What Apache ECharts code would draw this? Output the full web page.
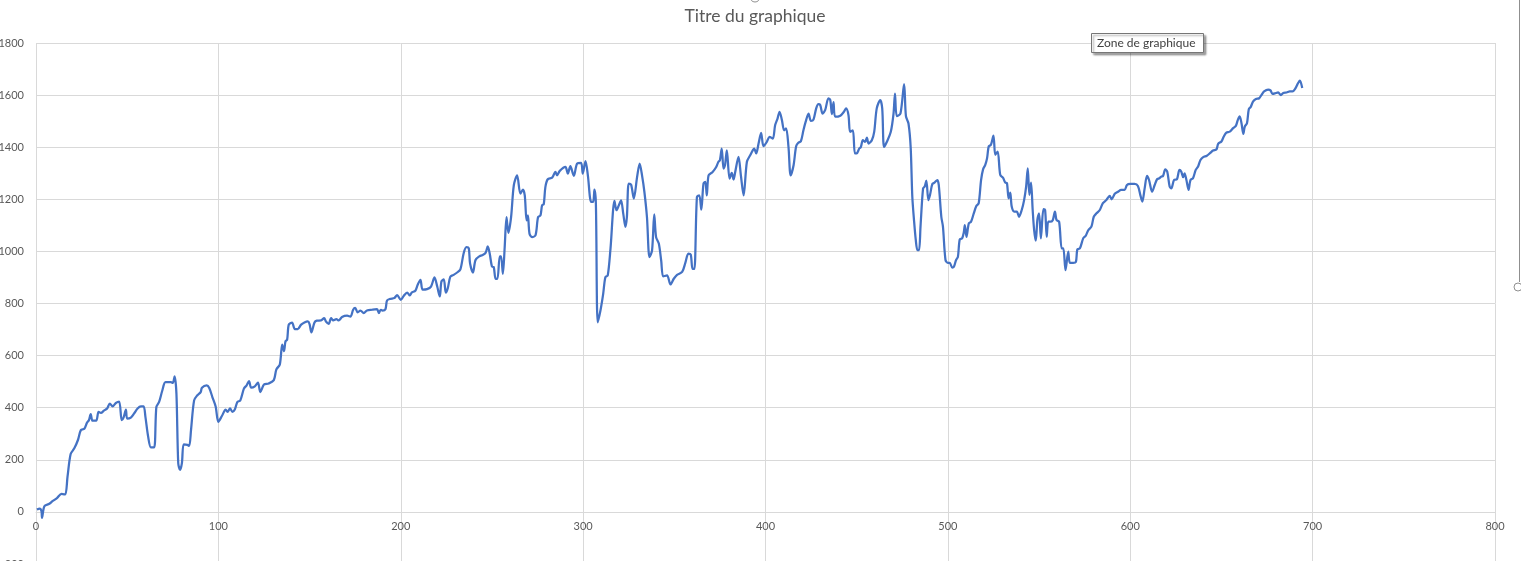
<!DOCTYPE html>
<html>
<head>
<meta charset="utf-8">
<title>Titre du graphique</title>
<script src="https://cdn.jsdelivr.net/npm/echarts@6/dist/echarts.min.js"></script>
<style>
    html, body { margin: 0; padding: 0; background: #fff; overflow: hidden; }
    #chart { width: 1521px; height: 600px; }
</style>
</head>
<body>
<div id="chart"></div>
<script>
// valeurs (x, y)
var seriesPoints = [
    [0.5, 9], [2, 13], [3, 3], [3.3, -23], [4.6, 22], [7.3, 31], [9, 41], [11.5, 53], [14, 69], [16, 67],
    [17.3, 136], [19, 222], [21, 244], [23, 276], [24.6, 314], [26.5, 319], [28, 343], [29, 352], [30, 375], [31, 350],
    [33, 350], [34.3, 384], [35.6, 380], [37.4, 390], [39, 397], [40.5, 416], [42, 405], [43.8, 418], [45.6, 423], [47, 352],
    [48, 362], [49.3, 393], [50, 358], [52, 362], [53.8, 378], [55.7, 397], [57.5, 405], [59, 405], [60, 365], [61.5, 289],
    [63, 248], [64.8, 248], [66, 403], [67.5, 422], [69.3, 467], [71, 498], [74, 498], [75, 495], [76, 520], [77, 454],
    [78, 187], [79, 161], [80, 187], [81, 259], [83, 257], [84, 253], [85, 314], [86.7, 428], [88.5, 448], [90.3, 460],
    [91, 477], [93.6, 486], [95, 476], [96.7, 441], [98.5, 405], [100, 346], [102, 369], [104, 393], [105, 384], [106.4, 397],
    [107.7, 384], [109, 393], [110.4, 422], [112, 428], [114, 473], [115.5, 486], [116.8, 502], [118, 477], [120, 482], [121.7, 496],
    [123, 460], [125, 489], [127.6, 493], [130.4, 506], [131.8, 547], [133.7, 566], [135, 642], [136, 617], [136.8, 655], [137.7, 661],
    [138.6, 719], [140.4, 727], [141.9, 702], [143.5, 702], [145.4, 719], [147.2, 727], [149, 731], [150, 721], [151, 689], [152.7, 727],
    [154, 734], [156.3, 735], [158, 744], [159, 731], [160.5, 722], [161.8, 744], [163, 735], [164.7, 740], [166, 735], [167.8, 748],
    [170.6, 753], [172.4, 750], [173.9, 776], [175, 783], [176.4, 766], [177.9, 773], [179.7, 763], [181.5, 773], [184.3, 776], [187, 778],
    [188, 763], [189, 776], [190, 773], [191.6, 778], [192.5, 812], [194.3, 818], [196.5, 821], [198, 832], [200, 814], [201.6, 829],
    [203.5, 842], [205, 831], [206, 842], [208, 849], [209.3, 872], [210.8, 891], [212, 853], [214.4, 855], [216.6, 865], [218.5, 900],
    [220, 865], [221.4, 827], [222.3, 884], [223.6, 893], [224.7, 842], [225.8, 859], [227.2, 903], [229, 910], [230.9, 919], [232.7, 931],
    [234.5, 993], [236, 1016], [237.3, 1012], [238, 954], [239.6, 919], [241, 967], [243.3, 982], [244.6, 985], [246.5, 994], [247.7, 1019],
    [248.8, 991], [250, 942], [251, 940], [252, 895], [253, 895], [254.3, 981], [255, 981], [256, 914], [257, 1017], [258, 1132],
    [259, 1071], [260.5, 1132], [262, 1254], [263.8, 1292], [265.6, 1222], [267, 1237], [268, 1215], [269, 1119], [269.7, 1138], [270.6, 1068],
    [272, 1055], [273.9, 1062], [275.3, 1132], [276.6, 1138], [277.5, 1177], [278.4, 1181], [279.3, 1247], [280.6, 1277], [283, 1283], [284.8, 1305],
    [285.7, 1292], [287.2, 1309], [290.3, 1324], [291.6, 1299], [293, 1327], [294.9, 1290], [296.7, 1337], [298.9, 1340], [299.8, 1299], [301.3, 1347],
    [302.6, 1292], [304.4, 1190], [305.5, 1190], [306.2, 1237], [307, 1183], [308, 728], [309.5, 773], [311, 837], [312.2, 901], [313.5, 908],
    [315, 1010], [317.2, 1194], [318.3, 1158], [319.6, 1177], [320.8, 1196], [322, 1145], [323.2, 1094], [324, 1132], [325, 1260], [326.3, 1256],
    [327.8, 1203], [329.6, 1286], [331, 1337], [332.3, 1292], [333.6, 1228], [335, 1132], [336.4, 978], [337.8, 1004], [339, 1142], [340, 1055],
    [341.5, 1030], [342.8, 965], [343.9, 904], [346, 908], [347.9, 873], [349.7, 895], [351.5, 910], [354.3, 921], [356, 955], [357.7, 991],
    [359, 988], [360, 933], [361, 933], [362.4, 1209], [363.7, 1215], [364.8, 1160], [366, 1260], [367, 1267], [367.8, 1215], [368.8, 1292],
    [371, 1305], [372.8, 1322], [374.2, 1344], [375, 1350], [376, 1395], [377, 1318], [377.8, 1331], [378.8, 1388], [380.3, 1279], [381.5, 1301],
    [382.5, 1276], [383.4, 1305], [385.2, 1363], [386.5, 1292], [388, 1215], [389.8, 1344], [391.6, 1369], [393, 1388], [393.8, 1395], [394.9, 1376],
    [396.2, 1414], [397.6, 1455], [398.9, 1404], [400.7, 1420], [402.2, 1440], [404, 1433], [405.3, 1485], [406.6, 1510], [407.7, 1536], [409, 1504],
    [410.2, 1465], [411.3, 1472], [412.6, 1401], [413.8, 1292], [415.4, 1331], [416.8, 1404], [418, 1417], [419.4, 1423], [420.8, 1465], [422, 1497],
    [423.6, 1529], [424.9, 1501], [426.3, 1506], [427.8, 1549], [429, 1565], [430, 1562], [431.3, 1529], [432.7, 1542], [434.5, 1587], [435.5, 1581],
    [436.4, 1527], [437.3, 1573], [438.2, 1517], [441, 1521], [443, 1536], [444.2, 1549], [445.5, 1523], [446.4, 1459], [447.9, 1465], [449, 1376],
    [450, 1376], [451.4, 1395], [452.3, 1401], [453.4, 1427], [454.6, 1420], [455.6, 1437], [456.5, 1414], [458.3, 1427], [459.6, 1459], [461, 1549],
    [462.9, 1581], [464, 1549], [465, 1401], [466.5, 1420], [468.7, 1459], [470.2, 1529], [471, 1606], [472, 1519], [474, 1529], [476, 1642],
    [477, 1519], [478.4, 1491], [479.6, 1400], [480.5, 1210], [481.5, 1114], [482.4, 1044], [483.3, 1005], [484.2, 1005], [485, 1095], [486.4, 1242],
    [487.3, 1249], [488.2, 1272], [489.3, 1197], [490.2, 1217], [491.5, 1259], [492.7, 1264], [494.2, 1274], [495, 1255], [496.4, 1133], [497.3, 1095],
    [498.7, 967], [500, 956], [501, 956], [502.4, 938], [503.3, 941], [504.5, 967], [505.5, 979], [506.5, 1046], [507.8, 1050], [508.7, 1072],
    [509.3, 1101], [510.2, 1056], [511.5, 1108], [512.7, 1114], [514.2, 1146], [515.6, 1174], [516.9, 1185], [518.2, 1274], [519.3, 1315], [520.5, 1332],
    [521.5, 1358], [522.4, 1403], [523.6, 1409], [525, 1444], [526, 1371], [527.3, 1383], [528.7, 1294], [530.2, 1283], [531.5, 1264], [532.4, 1262],
    [533.3, 1204], [534.2, 1226], [535, 1172], [536.4, 1153], [537.8, 1153], [539, 1133], [540.5, 1159], [541.8, 1197], [542.9, 1249], [543.8, 1319],
    [544.7, 1217], [545.6, 1264], [546.5, 1159], [547.3, 1082], [548.2, 1041], [549.1, 1123], [550, 1146], [551, 1050], [552.4, 1162], [553.3, 1159],
    [554.2, 1056], [555, 1114], [556, 1114], [557.5, 1120], [558.7, 1153], [559.6, 1120], [561, 1114], [562.4, 1012], [563.3, 1012], [564.5, 928],
    [566, 999], [566.9, 956], [568.7, 956], [570.2, 960], [571, 1008], [572.4, 1012], [574.2, 1050], [575.6, 1060], [577, 1082], [578.7, 1095],
    [580, 1133], [581.5, 1146], [583.3, 1159], [585, 1185], [586.9, 1197], [588.7, 1213], [589.8, 1200], [591.5, 1221], [593.3, 1229], [595, 1236],
    [596.9, 1236], [598.2, 1255], [600, 1259], [602.4, 1259], [604.2, 1251], [605.5, 1217], [606.6, 1191], [607.9, 1242], [609.2, 1290], [610.3, 1274],
    [612, 1229], [613.4, 1255], [614.7, 1277], [616, 1281], [617, 1287], [618, 1290], [619.2, 1315], [620.3, 1306], [621.6, 1249], [622.5, 1242],
    [624, 1274], [625.6, 1277], [627, 1313], [628, 1306], [629, 1285], [629.8, 1300], [630.8, 1274], [632, 1236], [633, 1274], [634.4, 1281],
    [635.9, 1313], [637.2, 1326], [638.5, 1351], [640, 1362], [642, 1367], [644, 1379], [645.4, 1387], [647.3, 1392], [648.2, 1413], [650, 1422],
    [651.3, 1441], [652.7, 1456], [654.6, 1460], [656.4, 1473], [657.9, 1482], [659, 1505], [660, 1518], [661, 1492], [662, 1451], [662.8, 1479],
    [664, 1492], [665, 1546], [666, 1554], [667.4, 1576], [668.9, 1585], [670.7, 1588], [672, 1601], [673.4, 1614], [675.6, 1621], [676.9, 1618],
    [678, 1605], [679.9, 1608], [681.1, 1610], [682.6, 1600], [683.9, 1608], [685.7, 1610], [687.5, 1614], [689, 1614], [690.3, 1623], [691.6, 1640],
    [693, 1656], [694.3, 1627]
];
// bornes des axes : min, max, pas
var xRange = [0, 800, 100];
var yRange = [-200, 1800, 200];

(function () {
    var myChart = echarts.init(document.getElementById('chart'));
    var font = 'Lato, "Noto Sans", sans-serif';
    var option = {
        animation: false,
        title: {
            text: 'Titre du graphique',
            left: 750,
            top: 2,
            textAlign: 'center',
            textStyle: { color: '#595959', fontSize: 17.5, fontWeight: 'normal', fontFamily: font }
        },
        grid: {
            left: 36,
            right: 26,
            top: 43,
            height: 521,
            outerBoundsMode: 'none',
            containLabel: false
        },
        xAxis: {
            type: 'value',
            min: xRange[0],
            max: xRange[1],
            interval: xRange[2],
            position: 'bottom',
            // l'axe des x est posé sur y = 0 (52 px au-dessus du bas de la grille)
            offset: -52,
            axisLine: { show: true, onZero: false, lineStyle: { color: '#d9d9d9', width: 1 } },
            axisTick: { show: false },
            axisLabel: { color: '#595959', fontSize: 11, fontFamily: font, margin: 9 },
            splitLine: { lineStyle: { color: '#d9d9d9', width: 1 } }
        },
        yAxis: {
            type: 'value',
            min: yRange[0],
            max: yRange[1],
            interval: yRange[2],
            axisLine: { show: false, onZero: false },
            axisTick: { show: false },
            axisLabel: {
                color: '#595959', fontSize: 11, fontFamily: font, margin: 12,
                formatter: function (v) { return String(v); }
            },
            splitLine: { lineStyle: { color: '#d9d9d9', width: 1 } }
        },
        series: [
            {
                type: 'line',
                data: seriesPoints,
                showSymbol: false,
                smooth: 0.3,
                lineStyle: { color: '#4472c4', width: 2.25 }
            }
        ],
        // infobulle et poignées de sélection d'Excel
        graphic: [
            {
                type: 'rect',
                shape: { x: 1091.5, y: 33.5, width: 112, height: 19 },
                style: { fill: '#fff', stroke: '#767676', lineWidth: 1, shadowBlur: 2, shadowOffsetX: 2, shadowOffsetY: 2, shadowColor: 'rgba(0,0,0,0.35)' },
                z: 100
            },
            {
                type: 'text',
                x: 1097,
                y: 37,
                style: { text: 'Zone de graphique', fill: '#404040', fontSize: 12, fontFamily: font },
                z: 101
            },
            {
                type: 'line',
                shape: { x1: 1519.5, y1: 0, x2: 1519.5, y2: 282 },
                style: { stroke: '#8f8f8f', lineWidth: 1 }
            },
            {
                type: 'circle',
                shape: { cx: 1518, cy: 287, r: 4 },
                style: { fill: '#fff', stroke: '#8f8f8f', lineWidth: 1 }
            },
            {
                type: 'circle',
                shape: { cx: 755, cy: -3, r: 5 },
                style: { fill: '#fff', stroke: '#8f8f8f', lineWidth: 1 }
            }
        ]
    };
    myChart.setOption(option);
})();
</script>
</body>
</html>
